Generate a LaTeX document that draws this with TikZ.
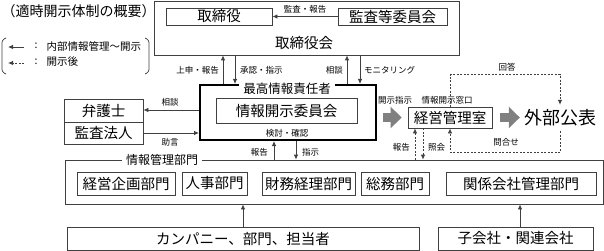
\documentclass[tikz,border=0pt]{standalone}
\usepackage{fontspec}
\setmainfont{Noto Sans CJK JP}
\usetikzlibrary{arrows.meta,calc}
\definecolor{DiscLine}{HTML}{404040}
\definecolor{DiscGray}{HTML}{808080}

\begin{document}
\begin{tikzpicture}[x=1pt,y=-1pt,>={Latex[length=5pt,width=4.5pt]},
  box/.style={draw=DiscLine,line width=0.8pt,inner sep=0pt,font=\fontsize{14.5}{16}\selectfont},
  lbl/.style={inner sep=0pt,font=\fontsize{8.5}{10}\selectfont},
  link/.style={->,draw=DiscLine,line width=0.8pt},
  dlink/.style={link,dash pattern=on 2pt off 1.5pt},
  bigarrow/.style={draw=DiscGray,line width=9pt,-{Triangle[length=11pt,width=21pt]}},
  gaplbl/.style={fill=white,inner xsep=4pt,inner ysep=0pt}]
  \useasboundingbox (0,0) rectangle (604,251);
  \node[anchor=west,inner sep=0pt,font=\fontsize{14}{16}\selectfont] (title) at (1.5,11) {（適時開示体制の概要）};
  \draw[DiscLine,line width=0.7pt,rounded corners=2.5pt] (6,38) -- (2,40) -- (2,72) -- (6,74);
  \draw[DiscLine,line width=0.7pt,rounded corners=2.5pt] (145,38) -- (149,40) -- (149,72) -- (145,74);
  \coordinate (lgA1) at (24,47);
  \coordinate (lgA2) at (8,47);
  \coordinate (lgB1) at (24,63);
  \coordinate (lgB2) at (8,63);
  \draw[link] (lgA1) -- (lgA2);
  \draw[dlink] (lgB1) -- (lgB2);
  \node[lbl,font=\fontsize{10.5}{12}\selectfont] (lgColA) at (36,46) {:};
  \node[lbl,font=\fontsize{10.5}{12}\selectfont] (lgColB) at (36,62) {:};
  \node[lbl,anchor=west,font=\fontsize{10.5}{12}\selectfont] (lgTextA) at (46.5,46) {内部情報管理～開示};
  \node[lbl,anchor=west,font=\fontsize{10.5}{12}\selectfont] (lgTextB) at (46.5,62) {開示後};

  \node[box,minimum width=305,minimum height=54] (board) at (306.5,28) {};
  \node[box,minimum width=106,minimum height=17] (director) at (219,16.5) {取締役};
  \node[box,minimum width=109,minimum height=17] (audit) at (392.5,16.5) {監査等委員会};
  \node[inner sep=0pt,font=\fontsize{14.5}{16}\selectfont] (boardlbl) at (304,43) {取締役会};
  \draw[link] (audit.west) -- (director.east);
  \node[lbl] (lblAudit) at (305,9) {監査・報告};

  \node[box,draw=black,line width=2pt,minimum width=176,minimum height=55] (cio) at (288,112.5) {};
  \node[gaplbl,font=\fontsize{12.5}{14}\selectfont] (ciolbl) at (287,88.5) {最高情報責任者};
  \node[box,minimum width=141,minimum height=25] (committee) at (286.5,110.8) {情報開示委員会};
  \node[lbl] (lblCheck) at (287,133) {検討・確認};

  \coordinate (xUpA) at (223,0);
  \coordinate (xDnA) at (235,0);
  \coordinate (xUpB) at (347,0);
  \coordinate (xDnB) at (360,0);
  \draw[link] (xUpA |- cio.north) -- (xUpA |- board.south);
  \draw[link] (xDnA |- board.south) -- (xDnA |- cio.north);
  \draw[link] (xUpB |- cio.north) -- (xUpB |- board.south);
  \draw[link] (xDnB |- board.south) -- (xDnB |- cio.north);
  \node[lbl,anchor=east] (lblUpA) at (219,70) {上申・報告};
  \node[lbl,anchor=west] (lblDnA) at (240,70) {承認・指示};
  \node[lbl,anchor=east] (lblUpB) at (343,70) {相談};
  \node[lbl,anchor=west] (lblDnB) at (364,70) {モニタリング};

  \node[box,minimum width=79,minimum height=23] (lawyer) at (103.5,110.5) {弁護士};
  \node[box,minimum width=79,minimum height=22] (auditfirm) at (103.5,133) {監査法人};
  \coordinate (yAsk) at (0,110);
  \coordinate (yAdv) at (0,133);
  \draw[link] (yAsk -| cio.west) -- (yAsk -| lawyer.east);
  \draw[link] (yAdv -| auditfirm.east) -- (yAdv -| cio.west);
  \node[lbl] (lblAsk) at (170,102) {相談};
  \node[lbl] (lblAdv) at (170,142) {助言};

  \node[box,minimum width=538,minimum height=44] (infomgmt) at (334,182) {};
  \node[gaplbl,font=\fontsize{12}{14}\selectfont] (infolbl) at (162,160) {情報管理部門};
  \node[box,minimum width=98,minimum height=23] (dplan) at (126,183.5) {経営企画部門};
  \node[box,minimum width=65,minimum height=23] (dhr) at (214.5,183.5) {人事部門};
  \node[box,minimum width=93,minimum height=23] (dfin) at (308.5,183.5) {財務経理部門};
  \node[box,minimum width=68,minimum height=23] (dga) at (395,183.5) {総務部門};
  \node[box,minimum width=150,minimum height=23] (daffil) at (521,183.5) {関係会社管理部門};

  \coordinate (xRep) at (274,0);
  \coordinate (xIns) at (296,0);
  \draw[link] (xRep |- infomgmt.north) -- (xRep |- cio.south);
  \draw[link] (xIns |- cio.south) -- (xIns |- infomgmt.north);
  \node[lbl,anchor=east] (lblRep) at (268,152) {報告};
  \node[lbl,anchor=west] (lblIns) at (302,152) {指示};

  \node[box,minimum width=352,minimum height=23] (company) at (243,238.5) {カンパニー、部門、担当者};
  \node[box,minimum width=155,minimum height=23] (subsid) at (515.5,238.5) {子会社・関連会社};
  \coordinate (xSub) at (520,0);
  \draw[link] (company.north) -- (company.north |- infomgmt.south);
  \draw[link] (xSub |- subsid.north) -- (xSub |- infomgmt.south);

  \node[box,minimum width=84,minimum height=21] (mgmt) at (450,117.5) {経営管理室};
  \node[lbl] (lblOrder) at (395,100) {開示指示};
  \node[lbl] (lblWindow) at (447,100) {情報開示窓口};
  \node[inner sep=0pt,minimum height=26,font=\fontsize{18}{20}\selectfont] (public) at (560,118) {外部公表};
  \draw[bigarrow] ($(cio.east |- mgmt.center)+(6,0)$) -- ($(mgmt.west)+(-6,0)$);
  \draw[bigarrow] ($(mgmt.east)+(8,0)$) -- ($(public.west |- mgmt.east)+(-4,0)$);

  \draw[dlink] (mgmt.north) -- ++(0,-32) -| (public.north);
  \draw[dlink] (public.south) -- ++(0,21) -| (mgmt.south);
  \node[lbl] (lblAnswer) at (507,67) {回答};
  \node[lbl] (lblQuery) at (506,142) {問合せ};

  \coordinate (xRepB) at (415,0);
  \coordinate (xInq) at (423,0);
  \draw[dlink] (xRepB |- infomgmt.north) -- (xRepB |- mgmt.south);
  \draw[dlink] (xInq |- mgmt.south) -- (xInq |- infomgmt.north);
  \node[lbl,anchor=east] (lblRepB) at (410,147) {報告};
  \node[lbl,anchor=west] (lblInq) at (428,147) {照会};
\end{tikzpicture}
\end{document}
